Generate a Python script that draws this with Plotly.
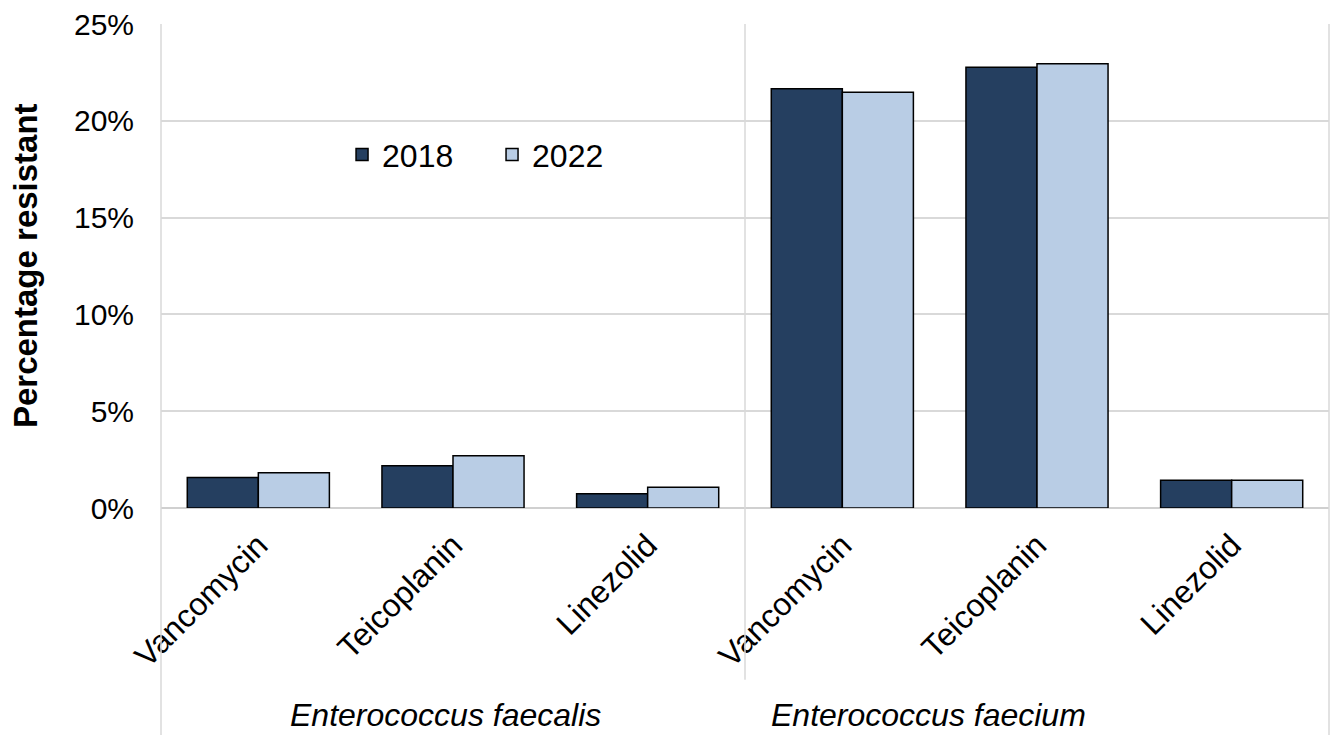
import plotly.graph_objects as go

drugs = ["Vancomycin", "Teicoplanin", "Linezolid"]
species = ["Enterococcus faecalis", "Enterococcus faecium"]
years = ["2018", "2022"]

faecalis_2018 = [1.58, 2.18, 0.74]
faecalis_2022 = [1.82, 2.70, 1.07]
faecium_2018 = [21.66, 22.76, 1.43]
faecium_2022 = [21.47, 22.95, 1.43]

y_ticks = [0, 5, 10, 15, 20, 25]
y_tick_labels = [f"{v}%" for v in y_ticks]

colors = {"2018": "#253F60", "2022": "#B9CDE5"}
FONT = "Arial, Liberation Sans, sans-serif"

fig = go.Figure()
series = [
    ("2018", faecalis_2018, "x", True),
    ("2022", faecalis_2022, "x", True),
    ("2018", faecium_2018, "x2", False),
    ("2022", faecium_2022, "x2", False),
]
for name, vals, xa, show in series:
    fig.add_trace(go.Bar(
        x=drugs, y=vals, name=name, xaxis=xa, yaxis="y",
        marker=dict(color=colors[name], line=dict(color="#000000", width=1.5)),
        showlegend=show, legendgroup=name,
    ))

axis_common = dict(
    type="category", showgrid=False, showline=False, zeroline=False,
    tickangle=-45, tickfont=dict(family=FONT, size=32, color="#000000"),
    ticks="", fixedrange=True, automargin=False, ticklabelstandoff=11,
)
fig.update_layout(
    width=1332, height=735,
    margin=dict(l=161, r=3, t=24, b=227, autoexpand=False),
    paper_bgcolor="white", plot_bgcolor="white",
    barmode="group", bargap=0.27, bargroupgap=0,
    font=dict(family=FONT, size=30, color="#000000"),
    xaxis=dict(domain=[0, 0.5], anchor="y", **axis_common),
    xaxis2=dict(domain=[0.5, 1], anchor="y", **axis_common),
    yaxis=dict(
        range=[0, 25], tickvals=y_ticks, ticktext=y_tick_labels,
        showgrid=True, gridcolor="#D9D9D9", gridwidth=1.5,
        zeroline=True, zerolinecolor="#D0D0D0", zerolinewidth=1.5,
        showline=False, ticks="", ticklabelstandoff=26, automargin=False,
        tickfont=dict(family=FONT, size=30, color="#000000"),
    ),
    legend=dict(
        orientation="h", x=0.155, y=0.73, xanchor="left", yanchor="middle",
        font=dict(family=FONT, size=32, color="#000000"),
        bgcolor="rgba(0,0,0,0)", itemwidth=30, tracegroupgap=0,
        entrywidth=105, entrywidthmode="pixels",
    ),
    showlegend=True,
)

# Borders / category dividers
line_style = dict(color="#D9D9D9", width=1.5)
fig.add_shape(type="line", xref="paper", yref="paper", x0=0, x1=0, y0=1, y1=-0.47, line=line_style)
fig.add_shape(type="line", xref="paper", yref="paper", x0=0.5, x1=0.5, y0=1, y1=-0.355, line=line_style)
fig.add_shape(type="line", xref="paper", yref="paper", x0=1, x1=1, y0=1, y1=-0.47, line=line_style)

# Species group labels
for sx, label in zip([0.244, 0.6575], species):
    fig.add_annotation(
        x=sx, y=-0.427, xref="paper", yref="paper", text="<i>" + label + "</i>",
        showarrow=False, xanchor="center", yanchor="middle",
        font=dict(family=FONT, size=32, color="#000000"),
    )

# Y axis title
fig.add_annotation(
    x=-0.1164, y=0.5, xref="paper", yref="paper", text="<b>Percentage resistant</b>",
    textangle=-90, showarrow=False, xanchor="center", yanchor="middle",
    font=dict(family=FONT, size=33, color="#000000"),
)

fig.write_html(
    "out.html",
    config={"displayModeBar": False},
    post_script="document.body.style.margin='0';document.body.style.overflow='hidden';",
)
